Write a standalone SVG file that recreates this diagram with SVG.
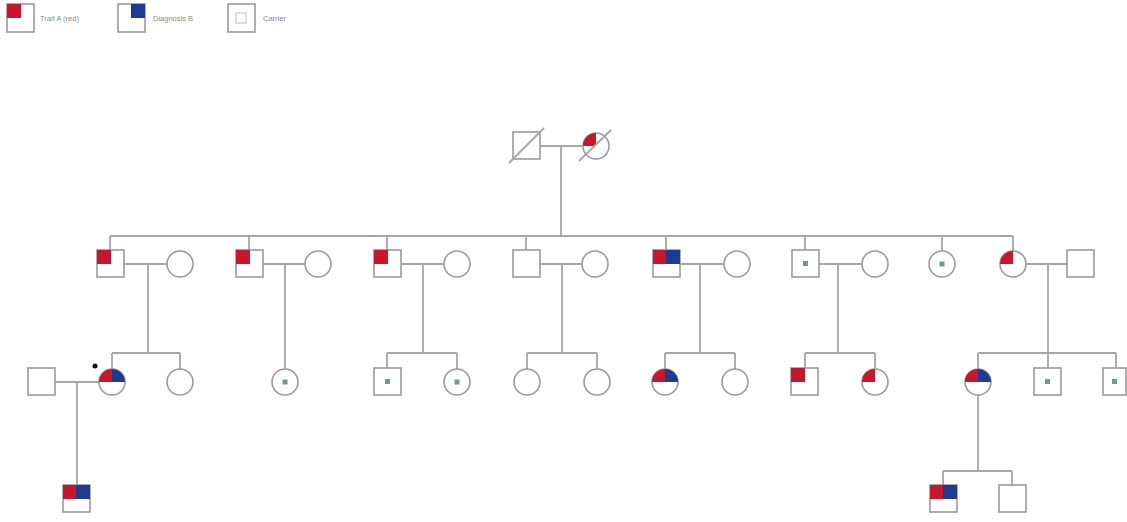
<svg xmlns="http://www.w3.org/2000/svg" width="1127" height="522" viewBox="0 0 1127 522">
<style>
.s{fill:#fff;stroke:#9a9a9a;stroke-width:1.6}
.ln{fill:none;stroke:#a6a6a6;stroke-width:1.8}
.r{fill:#c8162c}
.b{fill:#1f3a93}
.c{fill:#6f9a8c}
.t{font-family:"Liberation Sans",Arial,sans-serif;font-size:7.5px;fill:#8a8a8a}
</style>
<rect width="1127" height="522" fill="#fff"/>
<g id="legend">
<g id="legend-a"><rect class="s" x="7" y="4" width="27" height="28"/><rect class="r" x="7" y="4" width="14" height="14"/><text class="t" x="40" y="21">Trait A (red)</text></g>
<g id="legend-b"><rect class="s" x="118" y="4" width="27" height="28"/><rect class="b" x="131" y="4" width="14" height="14"/><text class="t" x="153" y="21">Diagnosis B</text></g>
<g id="legend-c"><rect class="s" x="228" y="4" width="27" height="28"/><rect x="236" y="13" width="10" height="10" fill="none" stroke="#aaa" stroke-width="0.8"/><text class="t" x="263" y="21">Carrier</text></g>
</g>
<g id="connectors">
<path class="ln" d="M540 146H583M561 146V236M110 236H1013M110 236V250M249 236V250M387 236V250M526 236V250M666 236V250M805 236V250M942 236V251M1013 236V251"/>
<path class="ln" d="M124 264H167M148 264V353M112 353H180M112 353V369M180 353V369"/>
<path class="ln" d="M263 264H305M285 264V369"/>
<path class="ln" d="M401 264H444M423 264V353M387 353H457M387 353V368M457 353V369"/>
<path class="ln" d="M540 264H582M562 264V353M527 353H597M527 353V369M597 353V369"/>
<path class="ln" d="M680 264H724M700 264V353M665 353H735M665 353V369M735 353V369"/>
<path class="ln" d="M819 264H862M838 264V353M805 353H875M805 353V368M875 353V369"/>
<path class="ln" d="M1026 264H1067M1048 264V353M978 353H1116M978 353V369M1048 353V368M1116 353V368"/>
<path class="ln" d="M55 382H99M77 382V485"/>
<path class="ln" d="M978 395V471M943 471H1012M943 471V485M1012 471V485"/>
</g>
<g id="n-gf"><rect class="s" x="513" y="132" width="27" height="27"/><path class="ln" d="M509 163L544 128"/></g>
<g id="n-gm"><circle class="s" cx="596" cy="146" r="13"/><path class="r" d="M596 146H583A13 13 0 0 1 596 133Z"/><path class="ln" d="M579 161L611 130"/></g>
<g id="n-2a"><rect class="s" x="97" y="250" width="27" height="27"/><rect class="r" x="97" y="250" width="14" height="14"/></g>
<g id="n-2aw"><circle class="s" cx="180" cy="264" r="13"/></g>
<g id="n-2b"><rect class="s" x="236" y="250" width="27" height="27"/><rect class="r" x="236" y="250" width="14" height="14"/></g>
<g id="n-2bw"><circle class="s" cx="318" cy="264" r="13"/></g>
<g id="n-2c"><rect class="s" x="374" y="250" width="27" height="27"/><rect class="r" x="374" y="250" width="14" height="14"/></g>
<g id="n-2cw"><circle class="s" cx="457" cy="264" r="13"/></g>
<g id="n-2d"><rect class="s" x="513" y="250" width="27" height="27"/></g>
<g id="n-2dw"><circle class="s" cx="595" cy="264" r="13"/></g>
<g id="n-2e"><rect class="s" x="653" y="250" width="27" height="27"/><rect class="r" x="653" y="250" width="14" height="14"/><rect class="b" x="666" y="250" width="14" height="14"/></g>
<g id="n-2ew"><circle class="s" cx="737" cy="264" r="13"/></g>
<g id="n-2f"><rect class="s" x="792" y="250" width="27" height="27"/><rect class="c" x="803" y="261" width="5" height="5"/></g>
<g id="n-2fw"><circle class="s" cx="875" cy="264" r="13"/></g>
<g id="n-2g"><circle class="s" cx="942" cy="264" r="13"/><rect class="c" x="939.5" y="261.5" width="5" height="5"/></g>
<g id="n-2h"><circle class="s" cx="1013" cy="264" r="13"/><path class="r" d="M1013 264H1000A13 13 0 0 1 1013 251Z"/></g>
<g id="n-2hh"><rect class="s" x="1067" y="250" width="27" height="27"/></g>
<g id="n-3a-sp"><rect class="s" x="28" y="368" width="27" height="27"/></g>
<g id="n-3a"><circle class="s" cx="112" cy="382" r="13"/><path class="r" d="M112 382H99A13 13 0 0 1 112 369Z"/><path class="b" d="M112 382V369A13 13 0 0 1 125 382Z"/><circle cx="95" cy="366" r="2.5" fill="#111"/></g>
<g id="n-3b"><circle class="s" cx="180" cy="382" r="13"/></g>
<g id="n-3c"><circle class="s" cx="285" cy="382" r="13"/><rect class="c" x="282.5" y="379.5" width="5" height="5"/></g>
<g id="n-3d"><rect class="s" x="374" y="368" width="27" height="27"/><rect class="c" x="385" y="379" width="5" height="5"/></g>
<g id="n-3e"><circle class="s" cx="457" cy="382" r="13"/><rect class="c" x="454.5" y="379.5" width="5" height="5"/></g>
<g id="n-3f"><circle class="s" cx="527" cy="382" r="13"/></g>
<g id="n-3g"><circle class="s" cx="597" cy="382" r="13"/></g>
<g id="n-3h"><circle class="s" cx="665" cy="382" r="13"/><path class="r" d="M665 382H652A13 13 0 0 1 665 369Z"/><path class="b" d="M665 382V369A13 13 0 0 1 678 382Z"/></g>
<g id="n-3i"><circle class="s" cx="735" cy="382" r="13"/></g>
<g id="n-3j"><rect class="s" x="791" y="368" width="27" height="27"/><rect class="r" x="791" y="368" width="14" height="14"/></g>
<g id="n-3k"><circle class="s" cx="875" cy="382" r="13"/><path class="r" d="M875 382H862A13 13 0 0 1 875 369Z"/></g>
<g id="n-3l"><circle class="s" cx="978" cy="382" r="13"/><path class="r" d="M978 382H965A13 13 0 0 1 978 369Z"/><path class="b" d="M978 382V369A13 13 0 0 1 991 382Z"/></g>
<g id="n-3m"><rect class="s" x="1034" y="368" width="27" height="27"/><rect class="c" x="1045" y="379" width="5" height="5"/></g>
<g id="n-3n"><rect class="s" x="1103" y="368" width="23" height="27"/><rect class="c" x="1112" y="379" width="5" height="5"/></g>
<g id="n-4a"><rect class="s" x="63" y="485" width="27" height="27"/><rect class="r" x="63" y="485" width="14" height="14"/><rect class="b" x="76" y="485" width="14" height="14"/></g>
<g id="n-4b"><rect class="s" x="930" y="485" width="27" height="27"/><rect class="r" x="930" y="485" width="14" height="14"/><rect class="b" x="943" y="485" width="14" height="14"/></g>
<g id="n-4c"><rect class="s" x="999" y="485" width="27" height="27"/></g>
</svg>
